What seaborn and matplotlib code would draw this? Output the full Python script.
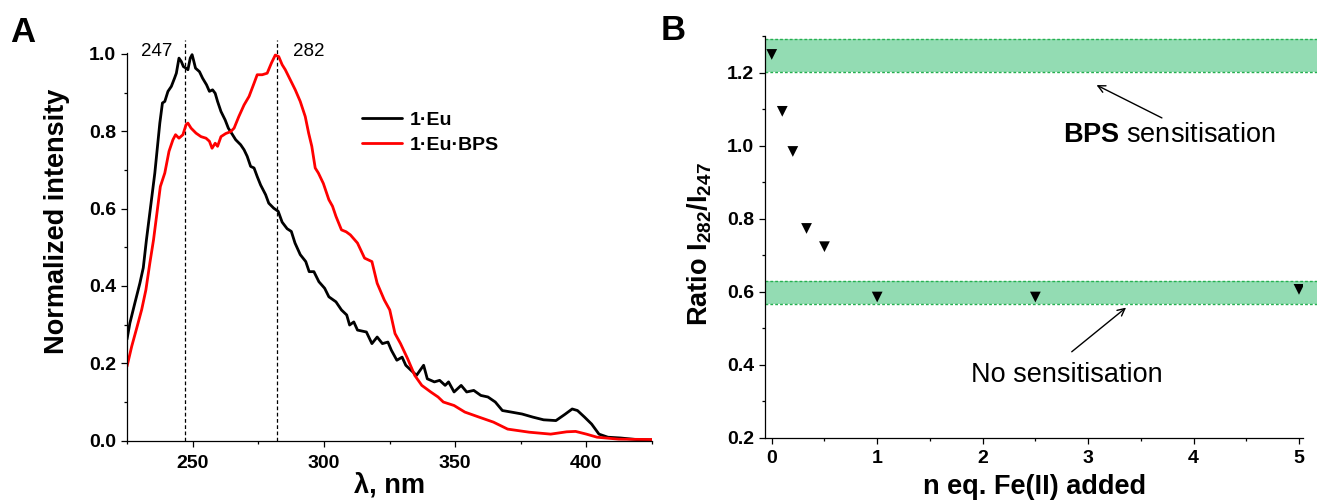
import matplotlib
matplotlib.use("Agg")
import matplotlib.pyplot as plt
from matplotlib.ticker import MultipleLocator
import seaborn as sns
import pandas as pd

# ---------------- data: panel A (excitation spectra) ----------------
lam_eu = [225.0, 226.1, 228.0, 229.9, 231.2, 232.4, 235.6, 237.5, 238.5, 239.4, 240.6, 241.9,
          243.1, 243.8, 244.8, 245.7, 246.5, 247.5, 248.2, 249.1, 249.8, 250.3, 251.1, 252.6,
          253.8, 255.3, 256.4, 257.6, 258.6, 259.5, 260.8, 262.4, 263.6, 265.2, 266.4, 268.3,
          269.6, 270.8, 272.1, 273.4, 274.6, 275.9, 277.8, 279.0, 280.9, 282.6, 284.1, 286.0,
          287.6, 289.0, 291.0, 293.1, 294.4, 296.2, 298.1, 300.3, 301.9, 304.6, 306.7, 308.7,
          309.8, 311.4, 312.8, 316.2, 318.3, 320.3, 322.3, 324.4, 325.7, 327.8, 329.8, 331.2,
          333.2, 335.3, 338.0, 339.4, 342.1, 344.1, 346.2, 347.5, 349.6, 352.3, 354.4, 357.1,
          359.8, 362.5, 365.3, 368.0, 371.4, 375.5, 379.6, 383.7, 388.4, 391.8, 394.6, 396.6,
          399.3, 402.0, 404.8, 408.2, 413.0, 419.1, 425.0]
int_eu = [0.262, 0.304, 0.356, 0.407, 0.447, 0.519, 0.692, 0.821, 0.873, 0.877, 0.903, 0.916,
          0.937, 0.950, 0.989, 0.980, 0.967, 0.963, 0.959, 0.989, 0.998, 0.985, 0.963, 0.954,
          0.937, 0.920, 0.903, 0.907, 0.898, 0.877, 0.851, 0.829, 0.808, 0.791, 0.778, 0.765,
          0.752, 0.735, 0.709, 0.705, 0.683, 0.661, 0.636, 0.614, 0.601, 0.593, 0.565, 0.548,
          0.541, 0.511, 0.481, 0.463, 0.437, 0.437, 0.411, 0.394, 0.372, 0.359, 0.338, 0.325,
          0.299, 0.307, 0.286, 0.281, 0.251, 0.268, 0.251, 0.255, 0.234, 0.208, 0.216, 0.195,
          0.182, 0.169, 0.195, 0.160, 0.152, 0.156, 0.143, 0.152, 0.126, 0.143, 0.126, 0.130,
          0.117, 0.113, 0.100, 0.078, 0.074, 0.069, 0.061, 0.054, 0.052, 0.068, 0.082, 0.078,
          0.061, 0.043, 0.017, 0.009, 0.007, 0.003, 0.002]

lam_bps = [225.0, 226.8, 228.7, 230.6, 232.2, 233.7, 235.1, 236.4, 237.7, 239.4, 241.0, 242.5,
           243.5, 244.8, 246.3, 247.5, 248.2, 249.4, 251.3, 253.2, 255.1, 256.4, 257.4, 258.6,
           259.5, 260.8, 262.6, 264.5, 265.8, 267.6, 269.6, 271.5, 273.4, 274.6, 276.5, 278.4,
           280.0, 281.5, 282.8, 284.1, 285.3, 287.2, 289.1, 291.0, 292.9, 294.2, 295.4, 296.7,
           297.9, 299.8, 301.9, 303.3, 304.6, 306.7, 308.5, 310.1, 312.8, 315.5, 318.3, 320.3,
           323.0, 325.1, 327.1, 329.2, 331.9, 334.6, 337.3, 340.7, 343.5, 345.5, 349.6, 353.7,
           359.1, 364.6, 370.0, 378.2, 386.4, 392.5, 395.9, 400.0, 404.1, 412.3, 425.0]
int_bps = [0.192, 0.244, 0.291, 0.339, 0.390, 0.459, 0.519, 0.588, 0.657, 0.692, 0.748, 0.778,
           0.791, 0.782, 0.791, 0.817, 0.821, 0.808, 0.795, 0.786, 0.782, 0.774, 0.756, 0.769,
           0.761, 0.786, 0.794, 0.799, 0.808, 0.838, 0.868, 0.890, 0.924, 0.946, 0.946, 0.950,
           0.976, 0.997, 0.993, 0.972, 0.959, 0.933, 0.907, 0.877, 0.838, 0.795, 0.761, 0.705,
           0.692, 0.665, 0.623, 0.606, 0.580, 0.545, 0.540, 0.532, 0.511, 0.472, 0.463, 0.407,
           0.364, 0.338, 0.277, 0.251, 0.212, 0.169, 0.143, 0.126, 0.113, 0.100, 0.091, 0.074,
           0.061, 0.048, 0.030, 0.022, 0.017, 0.023, 0.024, 0.017, 0.009, 0.004, 0.003]

series_names = ["1·Eu", "1·Eu·BPS"]
series_colors = ["black", "red"]
peaks = [247, 282]

# ---------------- data: panel B (ratio vs Fe(II)) ----------------
neq = [0, 0.1, 0.2, 0.33, 0.5, 1, 2.5, 5]
ratio = [1.25, 1.094, 0.984, 0.773, 0.723, 0.585, 0.585, 0.606]
band_bps = [1.203, 1.293]
band_none = [0.565, 0.628]

# ---------------- style ----------------
sns.set_theme(style="ticks")
plt.rcParams["font.family"] = ["Liberation Sans", "DejaVu Sans"]
plt.rcParams["mathtext.fontset"] = "custom"
plt.rcParams["mathtext.rm"] = "Liberation Sans"
plt.rcParams["mathtext.bf"] = "Liberation Sans:bold"
plt.rcParams["mathtext.it"] = "Liberation Sans:italic"
plt.rcParams["axes.linewidth"] = 0.9
for key in ("text.color", "axes.labelcolor", "xtick.color", "ytick.color", "axes.edgecolor"):
    plt.rcParams[key] = "black"

W, H = 1317, 501
fig = plt.figure(figsize=(W / 100, H / 100), dpi=100)

axA = fig.add_axes([127 / W, (H - 440.7) / H, 525 / W, (440.7 - 52.7) / H])
axB = fig.add_axes([765.3 / W, (H - 437.5) / H, (1303 - 765.3) / W, (437.5 - 36.2) / H])

# ---------------- panel A ----------------
dfA = pd.concat([
    pd.DataFrame({"lam": lam_eu, "I": int_eu, "series": series_names[0]}),
    pd.DataFrame({"lam": lam_bps, "I": int_bps, "series": series_names[1]}),
])
sns.lineplot(data=dfA, x="lam", y="I", hue="series", palette=dict(zip(series_names, series_colors)),
             estimator=None, sort=False, lw=2.0, ax=axA)

for p in peaks:
    axA.axvline(p, ymin=0, ymax=1.033, ls=(0, (3, 2)), lw=0.9, color="black", clip_on=False, zorder=1)
axA.annotate(str(peaks[0]), xy=(peaks[0], 1.0), xytext=(-8.6, -1.7), textcoords="offset points",
             ha="right", va="baseline", fontsize=13.5, color="black")
axA.annotate(str(peaks[1]), xy=(peaks[1], 1.0), xytext=(12, -1.7), textcoords="offset points",
             ha="left", va="baseline", fontsize=13.5, color="black")

leg = axA.get_legend()
handles = leg.legend_handles
labels = [t.get_text() for t in leg.texts]
for h in handles:
    h.set_linewidth(2.0)
axA.legend(handles, labels, loc="upper left", bbox_to_anchor=(0.4476, 0.85), frameon=False,
           borderpad=0, borderaxespad=0, handlelength=2.06, handletextpad=0.4, labelspacing=0.42,
           prop={"weight": "bold", "size": 14}, labelcolor="black")

axA.set_xlim(225, 425)
axA.set_ylim(0, 1.003)
axA.xaxis.set_major_locator(MultipleLocator(50))
axA.xaxis.set_minor_locator(MultipleLocator(25))
axA.yaxis.set_major_locator(MultipleLocator(0.2))
axA.yaxis.set_minor_locator(MultipleLocator(0.1))
axA.yaxis.set_major_formatter(matplotlib.ticker.FormatStrFormatter("%.1f"))
axA.set_xlabel("λ, nm", fontsize=19.5, fontweight="bold", color="black")
axA.set_ylabel("Normalized intensity", fontsize=19.5, fontweight="bold", color="black")
axA.xaxis.set_label_coords(0.5, -0.081)
axA.yaxis.set_label_coords(-0.1086, 0.566)

# ---------------- panel B ----------------
for lo, hi in (band_bps, band_none):
    axB.axhspan(lo, hi, xmin=0, xmax=1.026, facecolor="#93dcb3", edgecolor="none", clip_on=False, zorder=0)
    for yv in (lo, hi):
        axB.axhline(yv, xmin=0, xmax=1.026, color="#25b050", lw=1.0, ls=(0, (2, 1.5)), clip_on=False, zorder=1)

sns.scatterplot(x=neq, y=ratio, marker="v", s=60, color="black", edgecolor="none", ax=axB, zorder=3)

axB.annotate("", xy=(3.08, 1.166), xytext=(3.70, 1.076),
             arrowprops=dict(arrowstyle="->", color="black", lw=1.0, shrinkA=0, shrinkB=0, mutation_scale=13))
axB.annotate("", xy=(3.36, 0.556), xytext=(2.845, 0.435),
             arrowprops=dict(arrowstyle="->", color="black", lw=1.0, shrinkA=0, shrinkB=0, mutation_scale=13))
axB.text(2.766, 1.010, r"$\mathbf{BPS}$ sensitisation", fontsize=19.5, ha="left", va="baseline", color="black")
axB.text(1.893, 0.351, "No sensitisation", fontsize=19.5, ha="left", va="baseline", color="black")

axB.set_xlim(-0.061, 5.038)
axB.set_ylim(0.2, 1.3)
axB.xaxis.set_major_locator(MultipleLocator(1))
axB.xaxis.set_minor_locator(MultipleLocator(0.5))
axB.yaxis.set_major_locator(MultipleLocator(0.2))
axB.yaxis.set_minor_locator(MultipleLocator(0.1))
axB.yaxis.set_major_formatter(matplotlib.ticker.FormatStrFormatter("%.1f"))
axB.set_xlabel("n eq. Fe(II) added", fontsize=19.5, fontweight="bold", color="black")
axB.set_ylabel(r"Ratio I$_{\mathbf{282}}$/I$_{\mathbf{247}}$", fontsize=19.5, fontweight="bold", color="black")
axB.xaxis.set_label_coords(0.5, -0.091)
axB.yaxis.set_label_coords(-0.095, 0.482)

for ax in (axA, axB):
    sns.despine(ax=ax)
    ax.tick_params(which="major", direction="out", length=4, width=0.9, labelsize=14, pad=4, colors="black")
    ax.tick_params(which="minor", direction="out", length=2.5, width=0.9, colors="black")
    for lab in ax.get_xticklabels() + ax.get_yticklabels():
        lab.set_fontweight("bold")
    ax.set_facecolor("white")
axA.tick_params(axis="x", which="major", pad=6)
axB.tick_params(axis="x", which="major", pad=5)

fig.text(10 / W, 1 - 42 / H, "A", fontsize=25, fontweight="bold", va="baseline", ha="left", color="black")
fig.text(661 / W, 1 - 40 / H, "B", fontsize=25, fontweight="bold", va="baseline", ha="left", color="black")

fig.savefig("out.png", dpi=100, facecolor="white")
